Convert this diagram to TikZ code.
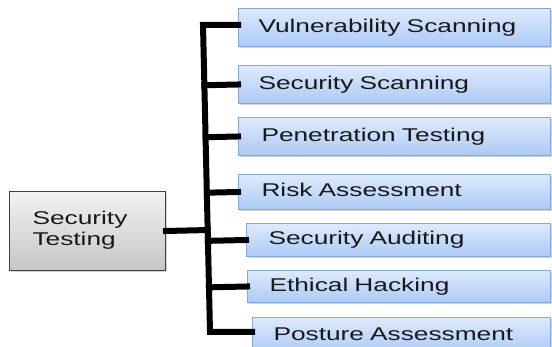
\documentclass[tikz,border=0pt]{standalone}
\usepackage{fontspec}
\setmainfont{Liberation Sans}[FakeStretch=1.42]
\usepackage{tikz}
\usetikzlibrary{calc}
\usetikzlibrary{shadows}
\definecolor{boxtop}{RGB}{222,234,252}
\definecolor{boxbot}{RGB}{172,202,246}
\definecolor{boxline}{RGB}{130,168,222}
\definecolor{greytop}{RGB}{242,242,242}
\definecolor{greybot}{RGB}{198,198,198}
\definecolor{inktext}{RGB}{25,25,25}

\begin{document}
\begin{tikzpicture}[x=1pt,y=-1pt,
    item/.style={draw=boxline, line width=1pt, top color=boxtop, bottom color=boxbot,
      anchor=north west, inner xsep=20pt, inner ysep=0pt, text=inktext,
      font=\fontsize{18.5}{21}\selectfont, text height=13.5pt, text depth=4pt, align=left,
      drop shadow={shadow xshift=1.5pt, shadow yshift=-1.5pt, opacity=0.35}},
    root/.style={item, draw=black!75, top color=greytop, bottom color=greybot,
      text height=13.5pt, text depth=27pt},
    bar/.style={line width=6pt, line cap=rect, line join=miter}]
            \useasboundingbox (0,0) rectangle (552,347);
            \node[root, text width=110pt, minimum height=79pt, inner xsep=23pt] (sectest) at (9,191) {Security\\Testing};
            \node[item, text width=272pt, minimum height=38pt] (vuln) at (238,8) {Vulnerability Scanning};
            \node[item, text width=272pt, minimum height=38pt] (scan) at (238,65) {Security Scanning};
            \node[item, text width=266pt, minimum height=38pt, inner xsep=23pt] (pentest) at (238,117) {Penetration Testing};
            \node[item, text width=266pt, minimum height=35pt, inner xsep=23pt] (risk) at (238,174) {Risk Assessment};
            \node[item, text width=260pt, minimum height=33pt, inner xsep=22pt] (audit) at (246,223) {Security Auditing};
            \node[item, text width=259pt, minimum height=32pt, inner xsep=22pt] (ethical) at (247,270) {Ethical Hacking};
            \node[item, text width=256pt, minimum height=36pt, inner xsep=21pt] (posture) at (252,317) {Posture Assessment};
            \coordinate (bartop) at (203,25);
            \coordinate (barbot) at (210,332);
            \draw[bar] (vuln.west |- bartop) -- (bartop) -- (barbot) -- (barbot -| posture.west);
            \draw[bar] (sectest.east) -- ($(bartop)!(sectest.east)!(barbot)$);
            \foreach \n in {scan,pentest,risk,audit,ethical}
              \draw[bar] (\n.west) -- ($(bartop)!(\n.west)!(barbot)$);
        \end{tikzpicture}
\end{document}
